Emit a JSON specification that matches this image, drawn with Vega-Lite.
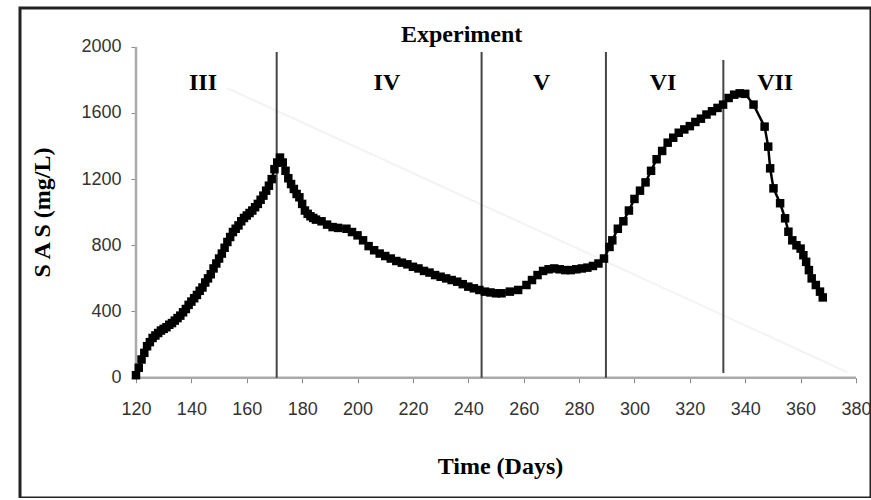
{
  "$schema": "https://vega.github.io/schema/vega-lite/v6.json",
  "autosize": "none",
  "width": 851,
  "height": 490,
  "padding": {"left": 20, "top": 8, "right": 0, "bottom": 0},
  "background": "white",
  "config": {
    "view": {"stroke": "#222", "strokeWidth": 3},
    "font": "Liberation Sans"
  },
  "datasets": {
    "sas": [
      {"day":120,"val":15},{"day":121,"val":60},{"day":122,"val":110},{"day":123,"val":150},{"day":124,"val":190},
      {"day":125,"val":215},{"day":126,"val":240},{"day":127,"val":255},{"day":128,"val":270},{"day":129,"val":285},
      {"day":130,"val":295},{"day":131,"val":305},{"day":132,"val":320},{"day":133,"val":330},{"day":134,"val":345},
      {"day":135,"val":360},{"day":136,"val":375},{"day":137,"val":395},{"day":138,"val":415},{"day":139,"val":440},
      {"day":140,"val":460},{"day":141,"val":480},{"day":142,"val":500},{"day":143,"val":525},{"day":144,"val":545},
      {"day":145,"val":575},{"day":146,"val":600},{"day":147,"val":625},{"day":148,"val":660},{"day":149,"val":690},
      {"day":150,"val":720},{"day":151,"val":750},{"day":152,"val":785},{"day":153,"val":820},{"day":154,"val":850},
      {"day":155,"val":880},{"day":156,"val":900},{"day":157,"val":920},{"day":158,"val":945},{"day":159,"val":965},
      {"day":160,"val":980},{"day":161,"val":995},{"day":162,"val":1010},{"day":163,"val":1030},{"day":164,"val":1050},
      {"day":165,"val":1075},{"day":166,"val":1100},{"day":167,"val":1130},{"day":168,"val":1160},{"day":169,"val":1200},
      {"day":170,"val":1260},{"day":171,"val":1300},{"day":172,"val":1330},{"day":173,"val":1300},{"day":174,"val":1250},
      {"day":175,"val":1205},{"day":176,"val":1170},{"day":177,"val":1140},{"day":178,"val":1110},{"day":179,"val":1090},
      {"day":180,"val":1050},{"day":181,"val":1010},{"day":182,"val":990},{"day":183,"val":975},{"day":184,"val":965},
      {"day":185,"val":955},{"day":187,"val":945},{"day":189,"val":925},{"day":191,"val":910},{"day":193,"val":905},
      {"day":196,"val":900},{"day":198,"val":880},{"day":200,"val":860},{"day":202,"val":830},{"day":204,"val":795},
      {"day":206,"val":770},{"day":208,"val":750},{"day":210,"val":735},{"day":212,"val":720},{"day":214,"val":705},
      {"day":216,"val":695},{"day":218,"val":685},{"day":220,"val":670},{"day":222,"val":660},{"day":224,"val":645},
      {"day":226,"val":635},{"day":228,"val":620},{"day":230,"val":610},{"day":232,"val":600},{"day":234,"val":590},
      {"day":236,"val":580},{"day":238,"val":565},{"day":240,"val":550},{"day":242,"val":540},{"day":244,"val":530},
      {"day":246,"val":520},{"day":248,"val":515},{"day":250,"val":510},{"day":252,"val":510},{"day":255,"val":520},
      {"day":258,"val":530},{"day":261,"val":560},{"day":263,"val":590},{"day":265,"val":620},{"day":267,"val":645},
      {"day":269,"val":655},{"day":271,"val":660},{"day":273,"val":655},{"day":275,"val":650},{"day":277,"val":650},
      {"day":279,"val":655},{"day":281,"val":660},{"day":283,"val":665},{"day":285,"val":675},{"day":287,"val":690},
      {"day":289,"val":720},{"day":291,"val":790},{"day":292,"val":830},{"day":294,"val":900},{"day":296,"val":945},
      {"day":298,"val":1010},{"day":300,"val":1080},{"day":302,"val":1130},{"day":304,"val":1180},{"day":306,"val":1250},
      {"day":308,"val":1320},{"day":310,"val":1370},{"day":312,"val":1420},{"day":314,"val":1450},{"day":316,"val":1480},
      {"day":318,"val":1500},{"day":320,"val":1520},{"day":322,"val":1545},{"day":324,"val":1565},{"day":326,"val":1590},
      {"day":328,"val":1610},{"day":330,"val":1630},{"day":332,"val":1650},{"day":334,"val":1690},{"day":336,"val":1710},
      {"day":338,"val":1718},{"day":340,"val":1715},{"day":343,"val":1650},{"day":347,"val":1517},{"day":348.3,"val":1396},
      {"day":349,"val":1265},{"day":350.2,"val":1144},{"day":352.6,"val":1054},{"day":354.4,"val":963},{"day":355.6,"val":882},
      {"day":357,"val":830},{"day":358.5,"val":800},{"day":360,"val":780},{"day":361,"val":740},{"day":362,"val":700},
      {"day":363,"val":650},{"day":364,"val":600},{"day":365.5,"val":560},{"day":367,"val":520},{"day":368,"val":485}
    ],
    "dividers": [
      {"day":170.8,"val":0,"val2":1968},
      {"day":244.8,"val":0,"val2":1968},
      {"day":289.7,"val":0,"val2":1968},
      {"day":332.1,"val":28,"val2":1920}
    ],
    "axislines": [
      {"day":120,"day2":120,"val":0,"val2":2000},
      {"day":120,"day2":380,"val":0,"val2":0}
    ],
    "diag": [
      {"day":152.9,"day2":376.8,"val":1750,"val2":34}
    ],
    "labels": [
      {"day":144.2,"val":1781,"label":"III"},
      {"day":210.6,"val":1781,"label":"IV"},
      {"day":266.5,"val":1781,"label":"V"},
      {"day":310.3,"val":1781,"label":"VI"},
      {"day":350.8,"val":1781,"label":"VII"},
      {"day":237.6,"val":2070,"label":"Experiment"}
    ]
  },
  "layer": [
    {
      "data": {"name": "diag"},
      "mark": {"type": "rule", "color": "#f3f3f3", "strokeWidth": 2},
      "encoding": {
        "x": {"field": "day", "type": "quantitative",
          "scale": {"domain": [78.11, 385.42], "nice": false, "zero": false},
          "axis": {
            "values": [120,140,160,180,200,220,240,260,280,300,320,340,360,380],
            "offset": -120.3, "domain": false, "grid": false,
            "tickColor": "#888", "tickSize": 5, "tickWidth": 1,
            "labelFont": "Liberation Sans", "labelFontSize": 18, "labelColor": "#333",
            "labelPadding": 18,
            "title": "Time (Days)", "titleFont": "Liberation Serif", "titleFontSize": 24,
            "titleFontWeight": "bold", "titleColor": "#000",
            "titleX": 480, "titleY": 89, "titleBaseline": "middle", "titleAlign": "center"
          }
        },
        "x2": {"field": "day2"},
        "y": {"field": "val", "type": "quantitative",
          "scale": {"domain": [-726.9, 2233.7], "nice": false, "zero": false},
          "axis": {
            "values": [0,400,800,1200,1600,2000],
            "format": "d",
            "offset": -116, "domain": false, "grid": false,
            "tickColor": "#888", "tickSize": 5, "tickWidth": 1,
            "labelFont": "Liberation Sans", "labelFontSize": 18, "labelColor": "#333",
            "labelPadding": 10,
            "title": "S A S (mg/L)", "titleFont": "Liberation Serif", "titleFontSize": 24,
            "titleFontWeight": "bold", "titleColor": "#000", "titleAngle": -90,
            "titleX": -94, "titleY": 204, "titleBaseline": "middle", "titleAlign": "center"
          }
        },
        "y2": {"field": "val2"}
      }
    },
    {
      "data": {"name": "axislines"},
      "mark": {"type": "rule", "color": "#aaaaaa", "strokeWidth": 2.5},
      "encoding": {
        "x": {"field": "day", "type": "quantitative"},
        "x2": {"field": "day2"},
        "y": {"field": "val", "type": "quantitative"},
        "y2": {"field": "val2"}
      }
    },
    {
      "data": {"name": "dividers"},
      "mark": {"type": "rule", "color": "#444", "strokeWidth": 2},
      "encoding": {
        "x": {"field": "day", "type": "quantitative"},
        "y": {"field": "val", "type": "quantitative"},
        "y2": {"field": "val2"}
      }
    },
    {
      "data": {"name": "sas"},
      "mark": {"type": "line", "color": "#000", "strokeWidth": 2.5},
      "encoding": {
        "x": {"field": "day", "type": "quantitative"},
        "y": {"field": "val", "type": "quantitative"}
      }
    },
    {
      "data": {"name": "sas"},
      "mark": {"type": "point", "shape": "square", "filled": true, "color": "#000", "size": 72, "opacity": 1},
      "encoding": {
        "x": {"field": "day", "type": "quantitative"},
        "y": {"field": "val", "type": "quantitative"}
      }
    },
    {
      "data": {"name": "labels"},
      "mark": {"type": "text", "font": "Liberation Serif", "fontSize": 24, "fontWeight": "bold", "color": "#000", "baseline": "middle", "align": "center"},
      "encoding": {
        "x": {"field": "day", "type": "quantitative"},
        "y": {"field": "val", "type": "quantitative"},
        "text": {"field": "label"}
      }
    }
  ]
}
